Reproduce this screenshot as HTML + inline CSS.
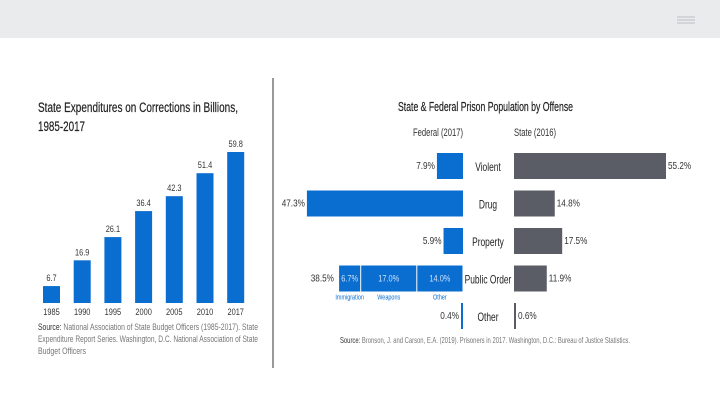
<!DOCTYPE html>
<html><head><meta charset="utf-8"><style>
body{margin:0;width:720px;height:405px;background:#fff;overflow:hidden;font-family:"Liberation Sans",sans-serif}
svg text{font-family:"Liberation Sans",sans-serif}
</style></head><body>
<svg id="svg" width="720" height="405" viewBox="0 0 720 405">
<rect x="0" y="0" width="720" height="38" fill="#e9ebed"/>
<g stroke="#c4c8cc" stroke-width="1.2">
<line x1="677" y1="17" x2="695" y2="17"/><line x1="677" y1="20" x2="695" y2="20"/><line x1="677" y1="23" x2="695" y2="23"/></g>
<line x1="273" y1="78" x2="273" y2="368" stroke="#333" stroke-width="1"/>
<g id="left">
<text x="38" y="112" font-size="13.5" fill="#222" stroke="#222" stroke-width="0.2" textLength="200" lengthAdjust="spacingAndGlyphs">State Expenditures on Corrections in Billions,</text>
<text x="38" y="131" font-size="13.5" fill="#222" stroke="#222" stroke-width="0.2" textLength="47" lengthAdjust="spacingAndGlyphs">1985-2017</text>
<text x="38" y="330" font-size="9" fill="#777" textLength="220" lengthAdjust="spacingAndGlyphs"><tspan fill="#333">Source:</tspan> National Association of State Budget Officers (1985-2017). State</text>
<text x="38" y="342" font-size="9" fill="#777" textLength="220" lengthAdjust="spacingAndGlyphs">Expenditure Report Series. Washington, D.C. National Association of State</text>
<text x="38" y="354" font-size="9" fill="#777" textLength="48" lengthAdjust="spacingAndGlyphs">Budget Officers</text>
</g>
<g id="right">
<text x="398" y="111" font-size="13" fill="#222" stroke="#222" stroke-width="0.2" textLength="175" lengthAdjust="spacingAndGlyphs">State &amp; Federal Prison Population by Offense</text>
<text x="413" y="136" font-size="11" fill="#333" textLength="50" lengthAdjust="spacingAndGlyphs">Federal (2017)</text>
<text x="514" y="136" font-size="11" fill="#333" textLength="42" lengthAdjust="spacingAndGlyphs">State (2016)</text>
<text x="340" y="343" font-size="8.5" fill="#777" textLength="290" lengthAdjust="spacingAndGlyphs"><tspan fill="#333">Source:</tspan> Bronson, J. and Carson, E.A. (2019). Prisoners in 2017. Washington, D.C.: Bureau of Justice Statistics.</text>
</g>
</svg>
<script>
const years=["1985","1990","1995","2000","2005","2010","2017"];
const spending=[6.7,16.9,26.1,36.4,42.3,51.4,59.8];
const offenses=["Violent","Drug","Property","Public Order","Other"];
const federal=[7.9,47.3,5.9,38.5,0.4];
const state=[55.2,14.8,17.5,11.9,0.6];
const poSegLabels=["Immigration","Weapons","Other"];
const poSegValues=[6.7,17.0,14.0];
const NS="http://www.w3.org/2000/svg";
function mk(p,t,a,txt){const e=document.createElementNS(NS,t);for(const k in a)e.setAttribute(k,a[k]);if(txt!=null)e.textContent=txt;p.appendChild(e);return e;}
const L=document.getElementById('left'),R=document.getElementById('right');
const base=303,ky=151/59.8;
const bx=i=>43+i*30.7;
years.forEach((y,i)=>{
 const h=spending[i]*ky;
 const r=mk(L,'rect',{x:bx(i),y:base-h,width:17,height:h,fill:'#0a6dd0'});
 
 
 const v=mk(L,'text',{x:bx(i)+8.5,y:base-h-5,'font-size':9.5,fill:'#333','text-anchor':'middle'},spending[i].toFixed(1));
 
 
 const t=mk(L,'text',{x:bx(i)+8.5,y:315,'font-size':9.5,fill:'#333','text-anchor':'middle'},y);
 
 
});
const fx0=463,fk=3.3,sx0=514,sk=152/55.2;
const ry=i=>153+i*37.5;
offenses.forEach((o,i)=>{
 const y=ry(i),h=26,slug=o.toLowerCase().replace(' ','-');
 const last=i===4;
 const fw=federal[i]*fk,sw=state[i]*sk;
 if(o!=="Public Order"){
  const f=mk(R,'rect',{x:last?fx0-2:fx0-fw,y:y,width:last?2:fw,height:h,fill:'#0a6dd0'});
  
  
 } else {
  let x=fx0;
  for(let j=poSegValues.length-1;j>=0;j--){
   const w=poSegValues[j]*fk;x-=w;
   const s=mk(R,'rect',{x:x+0.5,y:y,width:w-1,height:h,fill:'#0a6dd0'});
   
   
   const st=mk(R,'text',{x:x+w/2,y:y+16,'font-size':9.5,fill:'#cfe3fa','text-anchor':'middle'},poSegValues[j].toFixed(1)+'%');
   
   
   const sl=mk(R,'text',{x:x+w/2,y:y+34,'font-size':7,fill:'#0a6dd0','text-anchor':'middle'},poSegLabels[j]);
   
   
  }
 }
 const ft=mk(R,'text',{x:(last?fx0-2:fx0-fw)-2,y:y+16,'font-size':10.5,fill:'#333','text-anchor':'end'},federal[i].toFixed(1)+'%');
 
 
 const s=mk(R,'rect',{x:sx0,y:y,width:last?2:sw,height:h,fill:'#5b5d66'});
 
 
 const stt=mk(R,'text',{x:sx0+(last?2:sw)+2,y:y+16,'font-size':10.5,fill:'#333'},state[i].toFixed(1)+'%');
 
 
 const c=mk(R,'text',{x:488,y:y+18,'font-size':12,fill:'#222','text-anchor':'middle'},o);
 
 
 c.setAttribute('data-cond','0.7');
});
document.querySelectorAll('svg text').forEach(t=>{
 if(!t.hasAttribute('textLength')){
  const f=parseFloat(t.getAttribute('data-cond')||'0.78');
  const l=t.getComputedTextLength();
  t.setAttribute('textLength',(l*f).toFixed(1));
  t.setAttribute('lengthAdjust','spacingAndGlyphs');
 }
});
</script>
</body></html>
